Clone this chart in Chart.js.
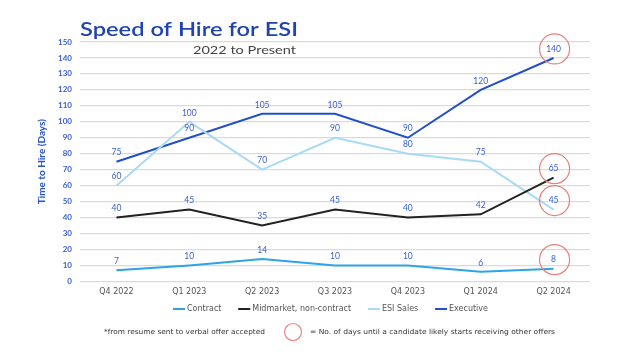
<!DOCTYPE html>
<html>
<head>
<meta charset="utf-8">
<script src="https://cdn.jsdelivr.net/npm/chart.js@4"></script>
<style>
  html, body { margin: 0; padding: 0; background: #fff; }
  #wrap { width: 643px; height: 361px; position: relative; }
</style>
</head>
<body>
<div id="wrap"><canvas id="myChart"></canvas></div>
<script>
const quarters = ["Q4 2022", "Q1 2023", "Q2 2023", "Q3 2023", "Q4 2023", "Q1 2024", "Q2 2024"];
const contract = [7, 10, 14, 10, 10, 6, 8];
const midmarket = [40, 45, 35, 45, 40, 42, 65];
const esiSales = [60, 100, 70, 90, 80, 75, 45];
const executive = [75, 90, 105, 105, 90, 120, 140];
const yTicks = [0, 10, 20, 30, 40, 50, 60, 70, 80, 90, 100, 110, 120, 130, 140, 150];

const FONT = "Lato, 'Open Sans', sans-serif";
const WIDE = "'DejaVu Sans', sans-serif";
const BLUE_TXT = "#3a5fcc";
const RING = "#e8807c";

// draw text stretched to a given width
function fitText(ctx, text, x, y, w, font) {
  ctx.font = font;
  const k = w / ctx.measureText(text).width;
  ctx.save();
  ctx.translate(x, y);
  ctx.scale(k, 1);
  ctx.fillText(text, 0, 0);
  ctx.restore();
}

function ring(ctx, x, y, r) {
  ctx.beginPath();
  ctx.strokeStyle = RING;
  ctx.lineWidth = 1.2;
  ctx.arc(x, y, r, 0, Math.PI * 2);
  ctx.stroke();
}

// labels above every point + red rings on the latest quarter
const extras = {
  id: "extras",
  afterDatasetsDraw(chart) {
    const ctx = chart.ctx;
    ctx.save();
    ctx.font = "8.5px " + FONT;
    ctx.fillStyle = BLUE_TXT;
    ctx.textAlign = "center";
    ctx.textBaseline = "middle";
    chart.data.datasets.forEach((ds, i) => {
      const meta = chart.getDatasetMeta(i);
      meta.data.forEach((pt, j) => {
        ctx.fillText(ds.data[j], pt.x, pt.y - 9);
        if (j === ds.data.length - 1) ring(ctx, pt.x + 1, pt.y - 9, 15);
      });
    });
    ctx.restore();
  },
  afterDraw(chart) {
    const ctx = chart.ctx;
    ctx.save();
    ctx.textAlign = "left";
    ctx.textBaseline = "alphabetic";
    ctx.fillStyle = "#1f44b0";
    fitText(ctx, "Speed of Hire for ESI", 80, 36, 218, "600 20px " + FONT);
    ctx.fillStyle = "#444";
    fitText(ctx, "2022 to Present", 193, 54, 103, "12px " + FONT);

    // legend: short line + label, spread between x=173 and x=488
    ctx.textBaseline = "middle";
    ctx.font = "8px " + WIDE;
    const items = chart.data.datasets;
    const lineW = 12, gapIn = 2;
    const textW = items.map((d) => ctx.measureText(d.label).width);
    const natural = textW.reduce((a, b) => a + b, 0) + items.length * (lineW + gapIn);
    const gap = (315 - natural) / (items.length - 1);
    let x = 173;
    items.forEach((d, i) => {
      ctx.strokeStyle = d.borderColor;
      ctx.lineWidth = 2;
      ctx.beginPath();
      ctx.moveTo(x, 309);
      ctx.lineTo(x + lineW, 309);
      ctx.stroke();
      ctx.fillStyle = "#555";
      ctx.fillText(d.label, x + lineW + gapIn, 309);
      x += lineW + gapIn + textW[i] + gap;
    });

    ctx.fillStyle = "#333";
    fitText(ctx, "*from resume sent to verbal offer accepted", 104, 332, 161, "7px " + WIDE);
    fitText(ctx, "= No. of days until a candidate likely starts receiving other offers", 310, 332, 245, "7px " + WIDE);
    ring(ctx, 293, 332, 8.5);
    ctx.restore();
  }
};

new Chart("myChart", {
  type: "line",
  data: {
    labels: quarters,
    datasets: [
      { label: "Contract", data: contract, borderColor: "#2ea3e6", backgroundColor: "#2ea3e6" },
      { label: "Midmarket, non-contract", data: midmarket, borderColor: "#222222", backgroundColor: "#222222" },
      { label: "ESI Sales", data: esiSales, borderColor: "#a8daf4", backgroundColor: "#a8daf4" },
      { label: "Executive", data: executive, borderColor: "#2150c6", backgroundColor: "#2150c6" },
    ],
  },
  options: {
    responsive: true,
    maintainAspectRatio: false,
    animation: false,
    elements: {
      line: { borderWidth: 2, tension: 0 },
      point: { radius: 0 },
    },
    layout: { padding: { top: 42, left: 36, right: 53, bottom: 58 } },
    plugins: {
      legend: { display: false },
      tooltip: { enabled: false },
    },
    scales: {
      x: {
        offset: true,
        grid: { display: false, drawTicks: false },
        border: { display: false },
        ticks: { color: "#555", font: { family: WIDE, size: 8 }, padding: 6, maxRotation: 0 },
      },
      y: {
        min: 0,
        max: 150,
        afterBuildTicks: (s) => { s.ticks = yTicks.map((v) => ({ value: v })); },
        afterFit: (s) => { s.width = 44; },
        grid: { color: "#dadada", lineWidth: 1.3, drawTicks: false },
        border: { display: false },
        ticks: { color: BLUE_TXT, font: { family: FONT, size: 8, weight: "bold" }, padding: 8 },
        title: {
          display: true,
          text: "Time to Hire (Days)",
          color: "#2a55c8",
          font: { family: FONT, size: 10, weight: "bold" },
          padding: 0,
        },
      },
    },
  },
  plugins: [extras],
});
</script>
</body>
</html>
